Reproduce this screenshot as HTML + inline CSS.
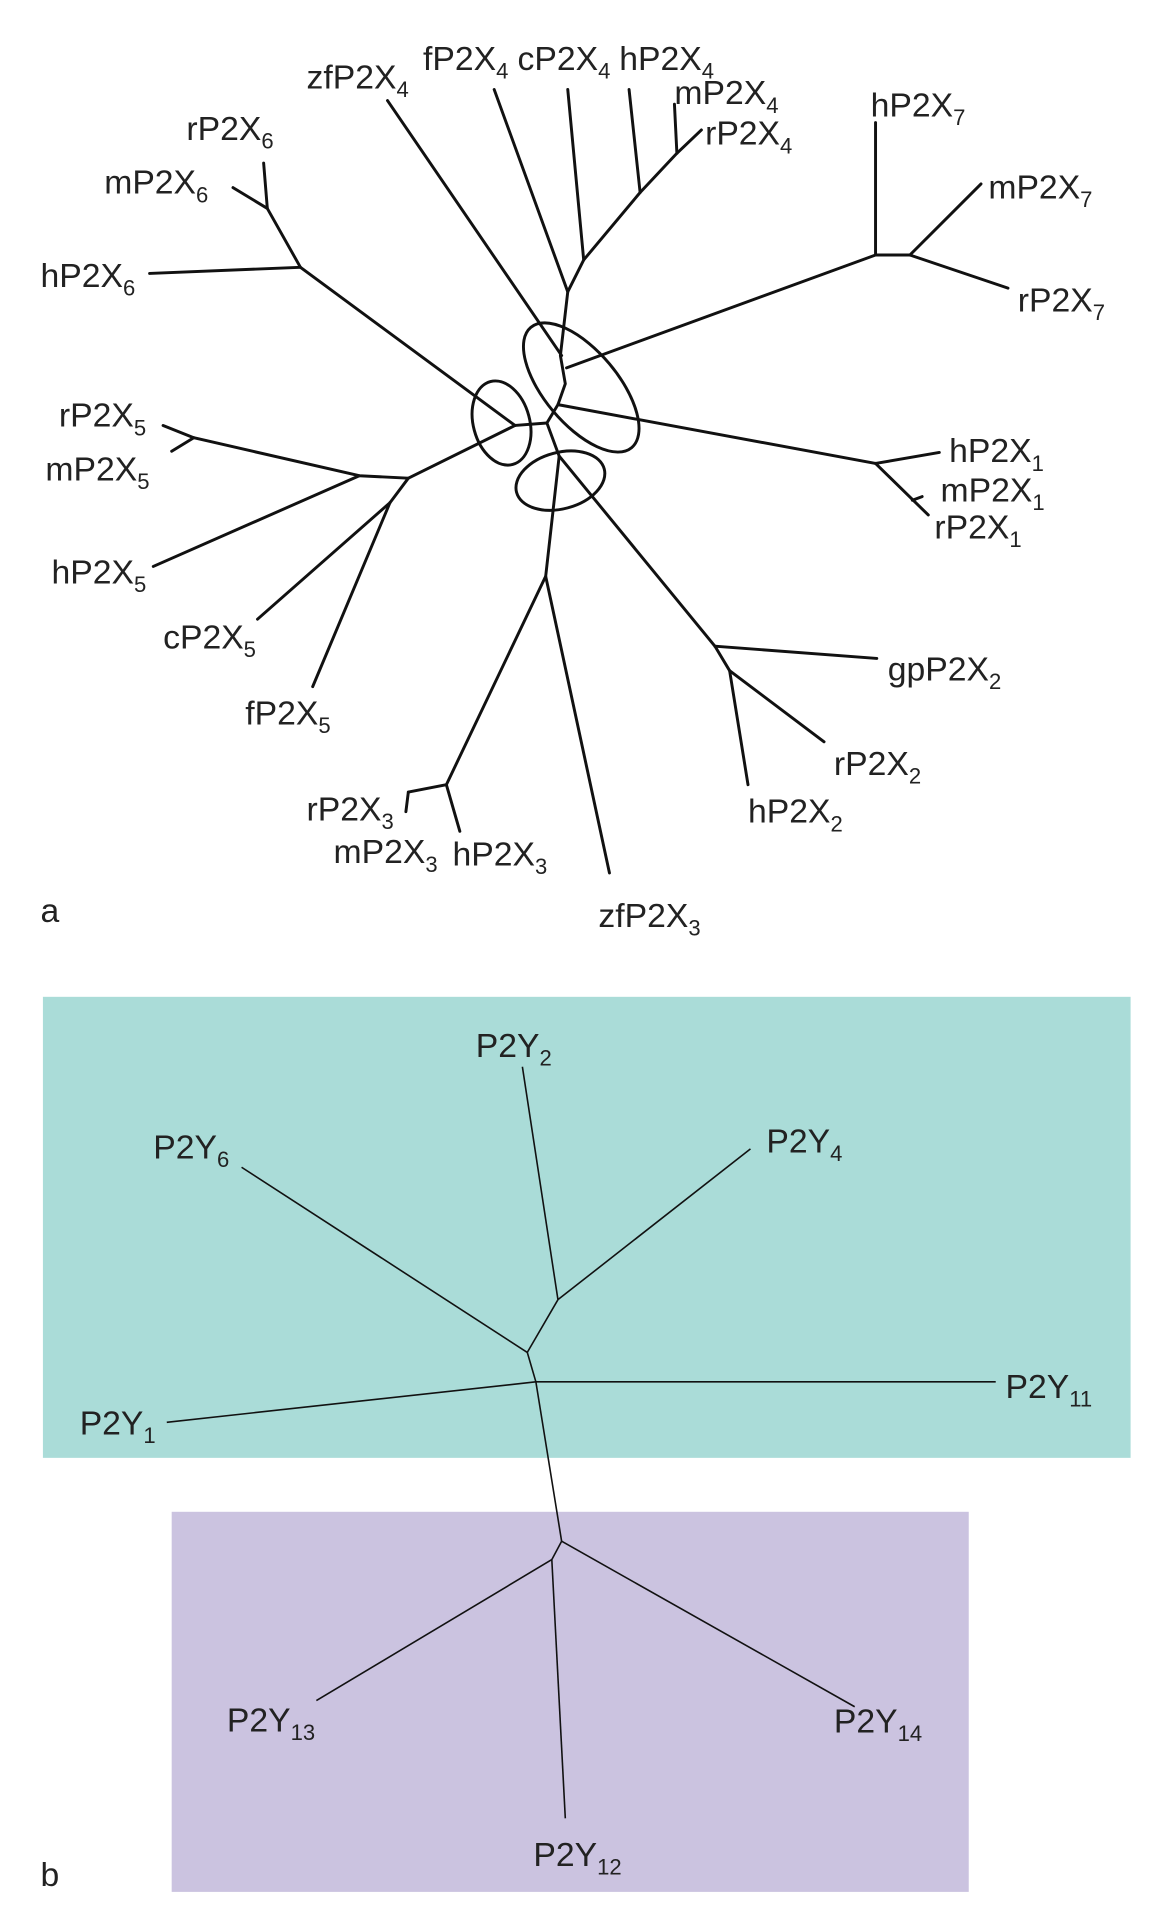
<!DOCTYPE html>
<html><head><meta charset="utf-8"><style>
html,body{margin:0;padding:0;background:#fff;width:1149px;height:1925px;overflow:hidden}
svg{display:block}
text{font-family:"Liberation Sans",Arial,sans-serif;font-size:27.5px;fill:#222}
tspan.s{font-size:18px}
</style></head><body>
<svg width="1149" height="1925" viewBox="0 0 937 1570" preserveAspectRatio="none" xmlns="http://www.w3.org/2000/svg">
<g stroke="#111" stroke-width="2.4" fill="none" stroke-linecap="round" stroke-linejoin="round">
<polyline points="572,106 552,125 522,157 476,212 463,238 457,290 461,313 455,330 446,345"/>
<line x1="316" y1="82" x2="458" y2="290"/>
<line x1="403" y1="73" x2="463" y2="238"/>
<line x1="463" y1="73" x2="476" y2="212"/>
<line x1="513" y1="73" x2="522" y2="157"/>
<line x1="550" y1="85" x2="552" y2="125"/>
<line x1="462" y1="300" x2="714" y2="208"/>
<line x1="714" y1="208" x2="714" y2="100"/>
<line x1="714" y1="208" x2="742" y2="208"/>
<line x1="742" y1="208" x2="800" y2="150"/>
<line x1="742" y1="208" x2="822" y2="235"/>
<line x1="455" y1="330" x2="714" y2="378"/>
<line x1="714" y1="378" x2="766" y2="369"/>
<line x1="714" y1="378" x2="757" y2="420"/>
<line x1="744" y1="408" x2="752" y2="405"/>
<line x1="420" y1="347" x2="446" y2="345"/>
<line x1="446" y1="345" x2="456" y2="372"/>
<line x1="420" y1="347" x2="245" y2="218"/>
<polyline points="245,218 218,170 215,133"/>
<line x1="218" y1="170" x2="190" y2="153"/>
<line x1="245" y1="218" x2="122" y2="223"/>
<polyline points="420,347 333,390 293,388 158,357 133,347"/>
<line x1="158" y1="357" x2="140" y2="368"/>
<line x1="293" y1="388" x2="125" y2="462"/>
<line x1="333" y1="390" x2="318" y2="410"/>
<line x1="318" y1="410" x2="210" y2="505"/>
<line x1="318" y1="410" x2="255" y2="560"/>
<line x1="456" y1="372" x2="583" y2="527"/>
<line x1="583" y1="527" x2="715" y2="537"/>
<polyline points="583,527 595,547 610,640"/>
<line x1="595" y1="547" x2="672" y2="605"/>
<polyline points="456,372 445,470 364,640 375,678"/>
<line x1="445" y1="470" x2="497" y2="712"/>
<line x1="364" y1="640" x2="333" y2="646"/>
<line x1="333" y1="646" x2="331" y2="662"/>
<ellipse cx="474" cy="316" rx="64" ry="30" transform="rotate(50 474 316)"/>
<ellipse cx="409" cy="345" rx="23" ry="35" transform="rotate(-15 409 345)"/>
<ellipse cx="457" cy="392" rx="37" ry="23" transform="rotate(-15 457 392)"/>
</g>
<text x="250" y="72">zfP2X<tspan class="s" dy="7">4</tspan></text>
<text x="345" y="57">fP2X<tspan class="s" dy="7">4</tspan></text>
<text x="422" y="57">cP2X<tspan class="s" dy="7">4</tspan></text>
<text x="505" y="57">hP2X<tspan class="s" dy="7">4</tspan></text>
<text x="550" y="85">mP2X<tspan class="s" dy="7">4</tspan></text>
<text x="575" y="118">rP2X<tspan class="s" dy="7">4</tspan></text>
<text x="710" y="95">hP2X<tspan class="s" dy="7">7</tspan></text>
<text x="806" y="162">mP2X<tspan class="s" dy="7">7</tspan></text>
<text x="830" y="254">rP2X<tspan class="s" dy="7">7</tspan></text>
<text x="152" y="114">rP2X<tspan class="s" dy="7">6</tspan></text>
<text x="85" y="158">mP2X<tspan class="s" dy="7">6</tspan></text>
<text x="33" y="234">hP2X<tspan class="s" dy="7">6</tspan></text>
<text x="774" y="377">hP2X<tspan class="s" dy="7">1</tspan></text>
<text x="767" y="409">mP2X<tspan class="s" dy="7">1</tspan></text>
<text x="762" y="439">rP2X<tspan class="s" dy="7">1</tspan></text>
<text x="48" y="348">rP2X<tspan class="s" dy="7">5</tspan></text>
<text x="37" y="392">mP2X<tspan class="s" dy="7">5</tspan></text>
<text x="42" y="476">hP2X<tspan class="s" dy="7">5</tspan></text>
<text x="133" y="529">cP2X<tspan class="s" dy="7">5</tspan></text>
<text x="200" y="591">fP2X<tspan class="s" dy="7">5</tspan></text>
<text x="724" y="555">gpP2X<tspan class="s" dy="7">2</tspan></text>
<text x="680" y="632">rP2X<tspan class="s" dy="7">2</tspan></text>
<text x="610" y="671">hP2X<tspan class="s" dy="7">2</tspan></text>
<text x="250" y="669">rP2X<tspan class="s" dy="7">3</tspan></text>
<text x="272" y="704">mP2X<tspan class="s" dy="7">3</tspan></text>
<text x="369" y="706">hP2X<tspan class="s" dy="7">3</tspan></text>
<text x="488" y="756">zfP2X<tspan class="s" dy="7">3</tspan></text>
<text x="33" y="752">a</text>

<rect x="35" y="813" width="887" height="376" fill="#aadcd8"/>
<rect x="140" y="1233" width="650" height="310" fill="#cbc3e0"/>
<g stroke="#111" stroke-width="1.3" fill="none">
<line x1="197" y1="952" x2="430" y2="1103"/>
<line x1="430" y1="1103" x2="455" y2="1060"/>
<line x1="426" y1="870" x2="455" y2="1060"/>
<line x1="612" y1="937" x2="455" y2="1060"/>
<line x1="430" y1="1103" x2="437" y2="1127"/>
<line x1="437" y1="1127" x2="812" y2="1127"/>
<line x1="136" y1="1160" x2="437" y2="1127"/>
<line x1="437" y1="1127" x2="458" y2="1257"/>
<line x1="458" y1="1257" x2="450" y2="1272"/>
<line x1="458" y1="1257" x2="697" y2="1392"/>
<line x1="450" y1="1272" x2="258" y2="1387"/>
<line x1="450" y1="1272" x2="461" y2="1483"/>
</g>
<text x="388" y="862">P2Y<tspan class="s" dy="7">2</tspan></text>
<text x="125" y="945">P2Y<tspan class="s" dy="7">6</tspan></text>
<text x="625" y="940">P2Y<tspan class="s" dy="7">4</tspan></text>
<text x="820" y="1140">P2Y<tspan class="s" dy="7">11</tspan></text>
<text x="65" y="1170">P2Y<tspan class="s" dy="7">1</tspan></text>
<text x="185" y="1412">P2Y<tspan class="s" dy="7">13</tspan></text>
<text x="680" y="1413">P2Y<tspan class="s" dy="7">14</tspan></text>
<text x="435" y="1522">P2Y<tspan class="s" dy="7">12</tspan></text>
<text x="33" y="1538">b</text>
</svg>
</body></html>
